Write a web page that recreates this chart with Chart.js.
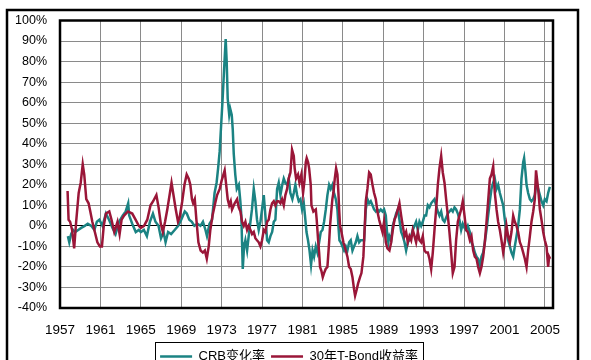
<!DOCTYPE html>
<html><head><meta charset="utf-8">
<script src="https://cdn.jsdelivr.net/npm/chart.js@4/dist/chart.umd.min.js"></script>
<style>html,body{margin:0;padding:0;background:#fff;overflow:hidden;}#wrap{width:591px;height:392px;}</style>
</head><body><div id="wrap"><canvas id="c" width="591" height="392"></canvas></div>
<script>
const seriesNames = ['CRB变化率', '30年T-Bond收益率'];
const yearTicks = [1957,1961,1965,1969,1973,1977,1981,1985,1989,1993,1997,2001,2005];

const crbYears = [
1957.78,1957.92,1958.1,1958.3,1958.5,1958.8,1959.1,1959.45,1959.75,1960.1,1960.4,1960.65,1960.9,1961.2,1961.55,1961.85,1962.2,1962.5,1962.85,1963.2,1963.5,1963.75,1963.85,1964.15,1964.5,1964.8,
1965.0,1965.3,1965.6,1965.9,1966.2,1966.45,1966.75,1967.0,1967.25,1967.45,1967.7,1968.0,1968.35,1968.7,1969.0,1969.35,1969.55,1969.8,
1970.05,1970.3,1970.6,1970.9,1971.15,1971.4,1971.55,1971.8,1972.05,1972.3,1972.5,1972.65,1972.8,1972.95,1973.1,1973.25,1973.4,1973.5,1973.6,1973.75,1973.85,1974.0,1974.1,1974.2,1974.35,1974.5,1974.7,1974.85,1974.95,
1975.02,1975.09,1975.22,1975.35,1975.52,1975.68,1975.85,1976.0,1976.18,1976.34,1976.5,1976.67,1976.84,1977.0,1977.17,1977.33,1977.5,1977.66,1977.83,1978.0,1978.16,1978.32,1978.49,1978.65,1978.82,1979.0,1979.15,1979.3,1979.48,1979.64,1979.8,
1980.0,1980.14,1980.3,1980.47,1980.63,1980.8,1980.96,1981.13,1981.25,1981.4,1981.55,1981.7,1981.85,1982.0,1982.15,1982.32,1982.48,1982.65,1982.81,1982.98,1983.14,1983.31,1983.47,1983.64,1983.8,1983.97,1984.13,1984.3,1984.46,1984.56,1984.66,1984.79,1984.96,
1985.12,1985.29,1985.45,1985.62,1985.78,1985.95,1986.11,1986.28,1986.44,1986.61,1986.77,1986.94,1987.1,1987.27,1987.43,1987.6,1987.76,1987.93,1988.09,1988.26,1988.42,1988.59,1988.75,1988.92,1989.08,1989.25,1989.4,1989.5,1989.61,1989.78,1989.94,
1990.11,1990.27,1990.44,1990.6,1990.77,1990.93,1991.1,1991.26,1991.43,1991.59,1991.76,1991.92,1992.09,1992.25,1992.42,1992.58,1992.75,1992.91,1993.08,1993.24,1993.41,1993.57,1993.74,1993.9,1994.07,1994.23,1994.4,1994.56,1994.73,1994.89,
1995.06,1995.22,1995.39,1995.55,1995.72,1995.88,1996.05,1996.21,1996.38,1996.54,1996.71,1996.87,1997.04,1997.2,1997.37,1997.57,1997.73,1997.9,1998.06,1998.23,1998.39,1998.56,1998.72,1998.89,1999.05,1999.22,1999.38,1999.55,1999.71,1999.88,
2000.04,2000.21,2000.37,2000.54,2000.7,2000.87,2001.03,2001.2,2001.36,2001.53,2001.69,2001.86,2002.02,2002.19,2002.35,2002.52,2002.68,2002.85,2002.94,2003.08,2003.18,2003.34,2003.51,2003.67,2003.84,2004.0,2004.17,2004.33,2004.5,2004.66,2004.83,2004.99,2005.16,2005.32,2005.49
];
const crbValues = [
-5,-8,-4,-2,-3,-2,-1,0,1,0,-2,2,3,0,6,3,-1,-4,2,5,7,11,5,1,-3,-2,
-3,-2,-5,2,6,2,0,-6,-3,-8,-3,-4,-2,0,3,7,6,3,
2,0,1,0,2,-2,-5,1,3,16,21,28,36,49,62,77,91,80,62,54,57,54,47,35,25,18,20,12,5,
-8,-21,-10,-7,-12,-5,2,8,18,12,3,-2,2,8,15,5,-7,-8,-5,-3,2,3,18,21,15,20,23,21,20,23,16,
13,16,20,15,12,13,8,11,5,-3,-7,-12,-19,-12,-15,-10,-13,-8,-3,-2,2,8,15,20,18,20,16,13,8,0,-7,-8,-10,
-12,-10,-12,-8,-7,-12,-10,-8,-5,-8,-7,-7,-7,8,13,11,12,10,8,7,8,7,8,7,8,5,-5,-8,-5,-7,0,
3,6,8,3,-3,-5,-8,-12,-8,-7,-5,-2,0,2,-2,2,0,2,5,5,10,9,11,12,13,10,7,5,7,3,
2,4,6,7,8,7,9,8,6,3,-2,1,-1,-2,0,-3,-8,-10,-13,-15,-16,-20,-15,-13,-8,-2,5,12,18,21,
23,18,20,16,13,10,3,-2,-7,-10,-13,-15,-10,-5,0,8,23,31,33,26,20,16,13,12,13,15,21,18,15,12,10,13,12,16,19
];

const bondYears = [
1957.75,1957.85,1958.0,1958.2,1958.4,1958.6,1958.85,1959.05,1959.25,1959.4,1959.6,1959.83,1960.0,1960.2,1960.45,1960.7,1960.95,1961.15,1961.33,1961.55,1961.88,1962.1,1962.37,1962.69,1962.9,1963.1,1963.34,1963.73,1964.15,1964.48,1964.8,
1965.0,1965.32,1965.64,1965.96,1966.22,1966.54,1966.76,1966.98,1967.18,1967.4,1967.62,1967.88,1968.04,1968.2,1968.46,1968.68,1968.84,1969.1,1969.32,1969.54,1969.74,1969.9,
1970.06,1970.18,1970.34,1970.5,1970.7,1970.92,1971.14,1971.34,1971.53,1971.72,1971.88,1972.1,1972.36,1972.55,1972.81,1973.0,1973.3,1973.45,1973.6,1973.75,1973.9,1974.03,1974.29,1974.53,1974.69,1974.86,
1975.02,1975.19,1975.35,1975.52,1975.68,1975.85,1976.01,1976.18,1976.34,1976.5,1976.67,1976.84,1977.0,1977.17,1977.33,1977.5,1977.66,1977.83,1977.99,1978.16,1978.32,1978.49,1978.65,1978.82,1978.98,1979.15,1979.31,1979.48,1979.64,1979.81,1979.97,
1980.14,1980.23,1980.37,1980.56,1980.7,1980.89,1981.06,1981.2,1981.33,1981.42,1981.56,1981.66,1981.82,1981.89,1982.08,1982.32,1982.41,1982.55,1982.65,1982.74,1982.88,1983.01,1983.14,1983.3,1983.47,1983.64,1983.73,1983.87,1983.96,1984.06,1984.2,1984.33,1984.46,1984.56,1984.63,1984.72,1984.86,
1985.05,1985.29,1985.45,1985.62,1985.78,1985.95,1986.11,1986.21,1986.37,1986.51,1986.7,1986.84,1987.03,1987.17,1987.27,1987.43,1987.6,1987.76,1987.93,1988.09,1988.26,1988.42,1988.59,1988.75,1988.92,1989.08,1989.25,1989.41,1989.61,1989.78,1989.94,
1990.11,1990.27,1990.44,1990.6,1990.77,1990.93,1991.1,1991.26,1991.43,1991.59,1991.76,1991.92,1992.09,1992.25,1992.42,1992.58,1992.75,1992.91,1993.08,1993.24,1993.41,1993.57,1993.74,1993.9,1994.07,1994.23,1994.4,1994.56,1994.73,1994.89,
1995.06,1995.22,1995.39,1995.55,1995.72,1995.88,1996.05,1996.21,1996.38,1996.54,1996.71,1996.87,1997.04,1997.2,1997.37,1997.57,1997.73,1997.9,1998.06,1998.23,1998.39,1998.56,1998.72,1998.89,1999.05,1999.22,1999.38,1999.55,1999.71,1999.88,
2000.04,2000.21,2000.37,2000.54,2000.7,2000.87,2001.03,2001.2,2001.36,2001.53,2001.69,2001.86,2002.02,2002.19,2002.35,2002.52,2002.68,2002.85,2003.01,2003.18,2003.34,2003.51,2003.67,2003.84,2004.0,2004.12,2004.33,2004.5,2004.66,2004.83,2004.99,2005.16,2005.32,2005.42,2005.52
];
const bondValues = [
17,3,2,-2,-11,2,16,21,30,25,13,11,7,2,-3,-8,-10,-10,0,6,7,3,-3,2,-4,3,5,7,6,3,0,
-1,0,3,10,12,15,9,1,-3,2,8,16,21,16,8,2,4,12,20,25,23,20,
13,11,13,3,-8,-12,-13,-12,-16,-10,-2,5,11,15,18,22,27,20,13,10,12,8,11,13,9,7,
2,0,2,-2,0,-2,-4,-3,-6,-7,-8,-10,-7,-2,-3,2,3,8,11,12,10,12,12,11,13,10,15,18,23,26,37,
34,28,23,25,21,25,16,22,31,33,31,28,20,10,7,8,3,-7,-13,-20,-22,-25,-23,-21,-20,-8,0,8,13,16,23,28,25,16,8,0,-3,
-8,-12,-15,-20,-21,-25,-31,-34,-31,-28,-25,-23,-15,0,12,18,26,25,20,16,13,7,3,0,-3,2,-8,-11,-12,-8,-2,
3,5,8,11,5,0,-5,-3,-8,-5,-7,-2,-5,-8,-3,-7,-8,-5,-12,-13,-13,-16,-21,-13,-2,8,20,28,34,26,
21,13,5,-3,-13,-23,-20,-7,2,5,8,12,5,-2,-3,-7,-5,-12,-15,-16,-20,-23,-20,-15,-8,2,12,23,25,29,
16,8,2,-2,-7,-13,-8,0,-5,-8,-3,5,2,0,-3,-8,-10,-13,-16,-20,-12,-5,2,7,13,27,18,8,3,-3,-7,-10,-20,-15,-16
];

const toPoints = (xs, ys) => xs.map((x, i) => ({ x: x, y: ys[i] }));

const framePlugin = {
  id: 'frames',
  afterLayout(chart) {
    const lg = chart.legend;
    if (lg) { lg.left += 12.5; lg.right += 12.5; }
  },
  beforeDraw(chart) {
    const ctx = chart.ctx;
    ctx.save();
    ctx.fillStyle = '#fff';
    ctx.fillRect(0, 0, chart.width, chart.height);
    ctx.strokeStyle = '#000';
    ctx.lineWidth = 2.5;
    ctx.strokeRect(7, 10, 571, 420);
    ctx.restore();
  },
  afterDraw(chart) {
    const ctx = chart.ctx, a = chart.chartArea;
    ctx.save();
    ctx.strokeStyle = '#000';
    ctx.lineWidth = 2.5;
    ctx.strokeRect(a.left, a.top, a.right - a.left, a.bottom - a.top);
    const hb = chart.legend && chart.legend.legendHitBoxes;
    if (hb && hb.length) {
      let l = Infinity, r = -Infinity, t = Infinity;
      hb.forEach(b => { l = Math.min(l, b.left); r = Math.max(r, b.left + b.width); t = Math.min(t, b.top); });
      ctx.lineWidth = 1;
      ctx.strokeRect(Math.round(l - 5) + 0.5, Math.round(t - 8) + 0.5, Math.round(r - l + 10), 30);
    }
    ctx.restore();
  }
};

new Chart(document.getElementById('c'), {
  type: 'line',
  data: {
    datasets: [
      { label: seriesNames[0], data: toPoints(crbYears, crbValues), borderColor: '#1b8383', backgroundColor: '#1b8383', borderWidth: 2.5, pointRadius: 0, tension: 0, order: 1 },
      { label: seriesNames[1], data: toPoints(bondYears, bondValues), borderColor: '#9a1638', backgroundColor: '#9a1638', borderWidth: 2.5, pointRadius: 0, tension: 0, order: 0 }
    ]
  },
  options: {
    responsive: false,
    animation: false,
    layout: { padding: { left: 0, right: 38, top: 20, bottom: 19 } },
    scales: {
      x: {
        type: 'linear', min: 1957, max: 2005.8,
        afterBuildTicks: s => { s.ticks = yearTicks.map(v => ({ value: v })); },
        afterFit: s => { s.height = 36; },
        grid: { color: '#8a8a8a', lineWidth: 1, drawTicks: false },
        border: { display: false },
        ticks: { autoSkip: false, maxRotation: 0, padding: 14, color: '#000', font: { family: 'Liberation Sans', size: 13.5 }, callback: v => String(v) }
      },
      y: {
        min: -40, max: 100,
        afterFit: s => { s.width = 60; },
        grid: { color: c => (c.tick && c.tick.value === 0) ? '#000' : '#8a8a8a', lineWidth: 1, drawTicks: false },
        border: { display: false },
        ticks: { stepSize: 10, padding: 13, color: '#000', font: { family: 'Liberation Sans', size: 12.5 }, callback: v => v + '%' }
      }
    },
    plugins: {
      tooltip: { enabled: false },
      legend: {
        position: 'bottom',
        labels: {
          usePointStyle: true, pointStyle: 'line', pointStyleWidth: 32,
          padding: 6, color: '#000',
          font: { family: "'Liberation Sans', 'Noto Sans CJK SC'", size: 13 },
          sort: (a, b) => a.datasetIndex - b.datasetIndex
        }
      }
    }
  },
  plugins: [framePlugin]
});
</script>
</body></html>
